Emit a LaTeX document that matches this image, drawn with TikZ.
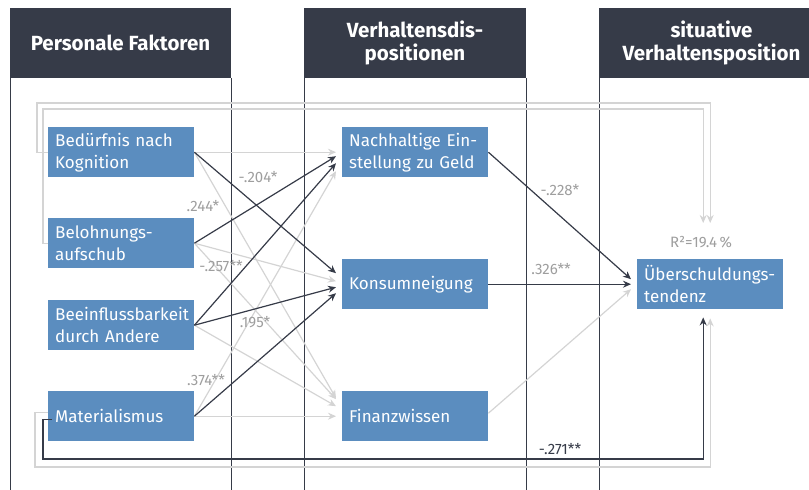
\documentclass[tikz,border=0pt]{standalone}
\usepackage{fontspec}
\setmainfont{Fira Sans}
\usetikzlibrary{arrows.meta,calc}
\definecolor{hdr}{HTML}{363B48}
\definecolor{boxc}{HTML}{5B8DBF}
\definecolor{nsc}{HTML}{D4D4D4}
\definecolor{sigc}{HTML}{363B48}
\definecolor{labc}{HTML}{9E9E9E}
\begin{document}
\begin{tikzpicture}[x=1pt,y=-1pt,
  hdrbox/.style={fill=hdr,text=white,font=\bfseries\fontsize{20.5}{23}\selectfont,align=center,minimum height=70pt,inner sep=0pt},
  col/.style={draw=sigc,line width=1.1pt},
  vbox/.style={fill=boxc,text=white,font=\fontsize{17}{22}\selectfont,align=left,text width=132pt,inner xsep=7pt,inner ysep=0pt,minimum height=50pt,anchor=north west},
  ns/.style={draw=nsc,line width=1.2pt,-{Stealth[length=8pt,width=7pt]}},
  sig/.style={draw=sigc,line width=1.2pt,-{Stealth[length=8pt,width=7pt]}},
  lab/.style={text=labc,font=\fontsize{15}{17}\selectfont,inner sep=0pt}]
\useasboundingbox (0,0) rectangle (809,490);
% headers
\node[hdrbox,minimum width=221pt] (h1) at (120.5,43) {Personale Faktoren};
\node[hdrbox,minimum width=222pt] (h2) at (415,43) {Verhaltensdis-\\positionen};
\node[hdrbox,minimum width=225pt] (h3) at (711.5,43) {situative\\Verhaltensposition};
% column lines
\draw[col] ($(h1.south west)+(0.5,0)$) -- ++(0,412);
\draw[col] (h1.south east) -- ++(0,412);
\draw[col] ($(h2.south west)+(0.5,0)$) -- ++(0,412);
\draw[col] (h2.south east) -- ++(0,412);
\draw[col] ($(h3.south west)+(0.5,0)$) -- ++(0,412);
% boxes
\node[vbox] (b1) at (48,127) {Bedürfnis nach\\Kognition};
\node[vbox] (b2) at (48,218) {Belohnungs-\\aufschub};
\node[vbox] (b3) at (48,300) {Beeinflussbarkeit\\durch Andere};
\node[vbox] (b4) at (48,391) {Materialismus};
\node[vbox] (m1) at (342,127) {Nachhaltige Ein-\\stellung zu Geld};
\node[vbox] (m2) at (342,259) {Konsumneigung};
\node[vbox] (m3) at (342,391) {Finanzwissen};
\node[vbox] (u) at (637,259) {Überschuldungs-\\tendenz};
% feedback lines
\draw[ns] (b1.west) -| (37,103) -| ($(u.north)+(0,-36)$);
\draw[ns] (b2.west) -| (43,109) -| ($(u.north)+(-7,-36)$);
\draw[ns] ($(b4.west)+(0,-4)$) -| (35,467) -| ($(u.south)+(0,9)$);
\draw[sig] ($(b4.west)+(4,3)$) -| (43,459) -| ($(u.south)+(-7,8)$);
% left -> middle
\draw[ns] (b1.east) -- ($(m1.west)+(-6,0)$);
\draw[ns] (b1.east) -- ($(m3.west)+(-6,-18)$);
\draw[ns] (b2.east) -- ($(m2.west)+(-6,-3)$);
\draw[ns] (b2.east) -- ($(m3.west)+(-6,-17)$);
\draw[ns] (b3.east) -- ($(m3.west)+(-6,-10)$);
\draw[ns] (b4.east) -- ($(m1.west)+(-6,19)$);
\draw[ns] (b4.east) -- ($(m3.west)+(-6,0)$);
\draw[sig] (b1.east) -- ($(m2.west)+(-6,-11)$);
\draw[sig] (b2.east) -- ($(m1.west)+(-6,4)$);
\draw[sig] (b3.east) -- ($(m1.west)+(-6,11)$);
\draw[sig] (b3.east) -- ($(m2.west)+(-6,3)$);
\draw[sig] (b4.east) -- ($(m2.west)+(-6,9)$);
% middle -> right
\draw[ns] ($(m3.east)+(0,-3)$) -- ($(u.west)+(-6,5)$);
\draw[sig] (m1.east) -- ($(u.west)+(-6,-5)$);
\draw[sig] (m2.east) -- ($(u.west)+(-6,0)$);
% labels
\node[lab] (l1) at (258,177) {-.204*};
\node[lab] (l2) at (203,206) {.244*};
\node[lab] (l3) at (221,266) {-.257**};
\node[lab] (l4) at (255,322) {.195*};
\node[lab] (l5) at (206,380) {.374**};
\node[lab] (l6) at (560,190) {-.228*};
\node[lab] (l7) at (551,269) {.326**};
\node[lab,text=sigc] (l8) at (560,449) {-.271**};
\node[lab] (r2) at (701,242) {R²=19.4\,\%};
\end{tikzpicture}
\end{document}
